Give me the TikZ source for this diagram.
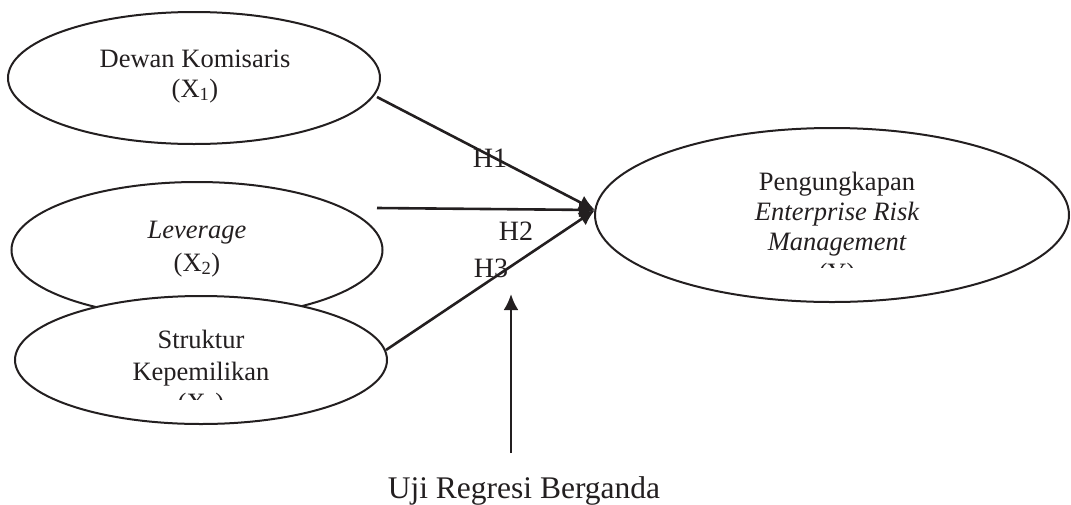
\documentclass[tikz,border=0pt]{standalone}
\usepackage{fontspec}
\setmainfont{Liberation Serif}
\usetikzlibrary{shapes.geometric,arrows.meta}
\definecolor{ink}{HTML}{231F20}
\begin{document}
\begin{tikzpicture}[x=1pt,y=-1pt,
  oval/.style={ellipse,draw=ink,line width=2pt,fill=white,inner sep=0pt},
  lbl/.style={anchor=base,inner sep=0pt,text=ink,font=\fontsize{26.5}{30}\selectfont},
  hyp/.style={anchor=base,inner sep=0pt,text=ink,font=\fontsize{28}{32}\selectfont},
  conn/.style={draw=ink,line width=2.6pt,-{Latex[length=16pt,width=15pt]}}]
\useasboundingbox (0,0) rectangle (1071,504);
% ellipses
\node[oval,minimum width=372pt,minimum height=132pt] (dk) at (194,78) {};
\node[oval,minimum width=371pt,minimum height=136pt] (lev) at (197,250) {};
\node[oval,minimum width=372pt,minimum height=128pt] (sk) at (201,360) {};
\node[oval,minimum width=474pt,minimum height=174pt] (erm) at (832,215) {};
% texts
\node[lbl] (dk1) at (195,67) {Dewan Komisaris};
\node[lbl] (dk2) at (195,97) {(X\textsubscript{1})};
\node[lbl] (lev1) at (197,238) {\itshape Leverage};
\node[lbl] (lev2) at (197,271) {(X\textsubscript{2})};
\node[lbl] (sk1) at (201,348) {Struktur};
\node[lbl] (sk2) at (201,380) {Kepemilikan};
\begin{scope}
  \clip (100,385) rectangle (300,399);
  \node[lbl] (sk3) at (201,411) {(X\textsubscript{3})};
\end{scope}
\node[lbl] (erm1) at (837,190) {Pengungkapan};
\node[lbl] (erm2) at (837,220) {\itshape Enterprise Risk};
\node[lbl] (erm3) at (837,250) {\itshape Management};
\begin{scope}
  \clip (780,255) rectangle (900,267);
  \node[lbl] (erm4) at (837,281) {(Y)};
\end{scope}
% hypothesis labels
\node[hyp] (h1) at (490,167) {H1};
\node[hyp] (h2) at (516,240) {H2};
\node[hyp] (h3) at (491,277) {H3};
\node[anchor=base,inner sep=0pt,text=ink,font=\fontsize{31.5}{35}\selectfont] (uji) at (524,498) {Uji Regresi Berganda};
% connectors
\coordinate (tip) at (595,210);
\coordinate (s1) at (377,97);
\coordinate (s2) at (377,208);
\coordinate (s3) at (386,350);
\coordinate (s4) at (511,453);
\coordinate (t4) at (511,294);
\draw[conn] (s1) -- (tip);
\draw[conn] (s2) -- (tip);
\draw[conn] (s3) -- (tip);
\draw[conn] (s4) -- (t4);
\end{tikzpicture}
\end{document}
